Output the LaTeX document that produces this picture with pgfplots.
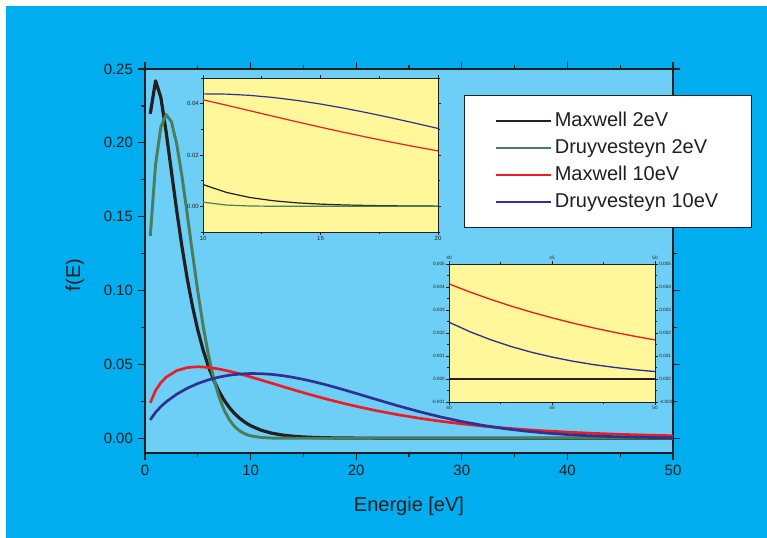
\documentclass[border=0pt]{standalone}
\usepackage{fontspec}
\setmainfont{Liberation Sans}
\usepackage{pgfplots}
\usepackage{pgfplotstable}
\pgfplotsset{compat=1.18}
\definecolor{bgblue}{HTML}{00AEEF}
\definecolor{panel}{HTML}{6DCFF6}
\definecolor{insety}{HTML}{FFF799}
\definecolor{cblack}{HTML}{231F20}
\definecolor{cgreen}{HTML}{4A7D5C}
\definecolor{cred}{HTML}{ED1C24}
\definecolor{cblue}{HTML}{2E3192}

% Maxwell 2eV
\pgfplotstableread{
E f
0.5 0.21969
1 0.24197
1.5 0.23080
2 0.20755
2.5 0.18072
3 0.15418
3.5 0.12969
4 0.10798
4.5 0.08920
5 0.07322
5.5 0.05981
6 0.04865
6.5 0.03944
7 0.03187
7.5 0.02569
8 0.02067
8.5 0.01659
9 0.01330
9.5 0.01064
10 0.008500
11 0.005407
12 0.003426
13 0.002163
14 0.001361
15 0.000855
16 0.000535
17 0.000335
18 0.000209
19 0.000130
20 0.000081
25 0.000007
30 0
40 0
50 0
}\tabMtwo

% Druyvesteyn 2eV
\pgfplotstableread{
E f
0.5 0.13697
1 0.18525
1.5 0.21062
2 0.21916
2.5 0.21432
3 0.19935
3.5 0.17748
4 0.15179
4.5 0.12503
5 0.09936
5.5 0.07625
6 0.05657
6.5 0.04059
7 0.02821
7.5 0.01896
8 0.01235
8.5 0.007793
9 0.004765
9.5 0.002824
10 0.001622
11 0.000488
12 0.000130
13 0.000030
14 0.000006
15 0
20 0
30 0
40 0
50 0
}\tabDtwo

% Maxwell 10eV
\pgfplotstableread{
E f
0.5 0.024001
1 0.032286
1.5 0.037614
2 0.041315
3 0.045785
4 0.047837
5 0.048393
6 0.047967
7 0.046882
8 0.045348
9 0.043522
10 0.041510
11 0.039393
12 0.037229
13 0.035062
14 0.032924
15 0.030836
16 0.028817
17 0.026876
18 0.025024
19 0.023263
20 0.021596
22 0.018544
24 0.015858
26 0.013514
28 0.011482
30 0.009730
32 0.008228
34 0.006944
36 0.005850
38 0.004921
40 0.004133
41 0.003787
42 0.003468
43 0.003175
44 0.002906
45 0.002659
46 0.002433
47 0.002225
48 0.002034
49 0.001860
50 0.001700
}\tabMten

% Druyvesteyn 10eV
\pgfplotstableread{
E f
0.5 0.012424
1 0.017538
1.5 0.021416
2 0.024627
3 0.029805
4 0.033846
5 0.037040
6 0.039527
7 0.041393
8 0.042700
9 0.043494
10 0.043821
11 0.043720
12 0.043232
13 0.042398
14 0.041261
15 0.039861
16 0.038241
17 0.036441
18 0.034502
19 0.032460
20 0.030350
22 0.026065
24 0.021872
26 0.017944
28 0.014400
30 0.011312
32 0.008697
34 0.006548
36 0.004828
38 0.003488
40 0.002469
41 0.002062
42 0.001713
43 0.001416
44 0.001164
45 0.000953
46 0.000776
47 0.000628
48 0.000507
49 0.000406
50 0.000324
}\tabDten

\begin{document}
\begin{tikzpicture}
\fill[white] (0,0) rectangle (575.25pt,-403.5pt);
\fill[bgblue] (4.5pt,-4.5pt) rectangle (575.25pt,-403.5pt);

% ---------- main axis ----------
\begin{axis}[
  at={(108.75pt,-339.75pt)}, anchor=south west,
  scale only axis, width=396pt, height=288pt,
  xmin=0, xmax=50, ymin=-0.01, ymax=0.25,
  axis background/.style={fill=panel},
  axis line style={draw=cblack, line width=1.1pt},
  tick align=outside, xtick pos=both, ytick pos=both,
  xtick={0,10,20,30,40,50}, minor xtick={5,15,25,35,45},
  ytick={0,0.05,0.1,0.15,0.2,0.25},
  minor ytick={0.025,0.075,0.125,0.175,0.225},
  major tick length=5.6pt, minor tick length=3pt,
  tick style={draw=cblack, line width=0.9pt},
  ticklabel style={font=\fontsize{11.2}{13}\selectfont, text=cblack},
  /pgf/number format/assume math mode=true,
  xticklabel style={/pgf/number format/.cd, fixed, precision=0},
  yticklabel style={/pgf/number format/.cd, fixed, fixed zerofill, precision=2},
  scaled ticks=false,
  xlabel={Energie [eV]}, ylabel={f(E)},
  label style={font=\fontsize{15}{18}\selectfont, text=cblack},
  xlabel style={at={(0.5,-0.1536)}, anchor=base},
  ylabel style={at={(-0.1231,0.4635)}, anchor=base},
  legend style={at={(1.1496,0.9323)}, anchor=north east,
    draw=cblack, line width=0.6pt, fill=white,
    font=\fontsize{15}{18}\selectfont, text=cblack,
    inner xsep=23pt, inner ysep=9pt, row sep=0pt,
    nodes={text height=11.5pt, text depth=3.5pt, inner ysep=2.6pt, inner xsep=2pt}},
  legend cell align=left,
  legend image code/.code={\draw[#1, line width=1.6pt] (0pt,0pt) -- (41pt,0pt);},
]
\addplot[cblack, line width=2.4pt, line join=round] table[x=E,y=f] {\tabMtwo};
\addlegendentry{Maxwell 2eV}
\addplot[cgreen, line width=2.2pt, line join=round] table[x=E,y=f] {\tabDtwo};
\addlegendentry{Druyvesteyn 2eV}
\addplot[cred, line width=2pt, line join=round] table[x=E,y=f] {\tabMten};
\addlegendentry{Maxwell 10eV}
\addplot[cblue, line width=2pt, line join=round] table[x=E,y=f] {\tabDten};
\addlegendentry{Druyvesteyn 10eV}
\end{axis}

% ---------- inset 1 ----------
\begin{axis}[
  at={(152.25pt,-174pt)}, anchor=south west,
  scale only axis, width=176.25pt, height=115.5pt,
  xmin=10, xmax=20, ymin=-0.01, ymax=0.05,
  axis background/.style={fill=insety},
  axis line style={draw=cblack, line width=0.7pt},
  tick align=outside, xtick pos=both, ytick pos=both,
  xtick={10,15,20}, minor xtick={12.5,17.5},
  ytick={0,0.02,0.04}, minor ytick={-0.01,0.01,0.03,0.05},
  major tick length=2pt, minor tick length=1.3pt,
  tick style={draw=cblack, line width=0.5pt},
  ticklabel style={font=\fontsize{4.5}{5}\selectfont, text=cblack, inner sep=1pt},
  /pgf/number format/assume math mode=true,
  xticklabel style={/pgf/number format/.cd, fixed, precision=0},
  yticklabel style={/pgf/number format/.cd, fixed, fixed zerofill, precision=2},
  scaled ticks=false,
]
\addplot[cblack, line width=0.9pt] table[x=E,y=f] {\tabMtwo};
\addplot[cgreen, line width=0.9pt] table[x=E,y=f] {\tabDtwo};
\addplot[cred, line width=0.9pt] table[x=E,y=f] {\tabMten};
\addplot[cblue, line width=0.9pt] table[x=E,y=f] {\tabDten};
\end{axis}

% ---------- inset 2 ----------
\begin{axis}[
  at={(336.75pt,-301.5pt)}, anchor=south west,
  scale only axis, width=154.5pt, height=103.5pt,
  xmin=40, xmax=50, ymin=-0.001, ymax=0.005,
  axis background/.style={fill=insety},
  axis line style={draw=cblack, line width=0.7pt},
  tick align=outside, xtick pos=both, ytick pos=both,
  xtick={40,45,50}, minor xtick={42.5,47.5},
  ytick={-0.001,0,0.001,0.002,0.003,0.004,0.005},
  minor ytick={-0.0005,0.0005,0.0015,0.0025,0.0035,0.0045},
  major tick length=2pt, minor tick length=1.3pt,
  tick style={draw=cblack, line width=0.5pt},
  ticklabel style={font=\fontsize{3.5}{4}\selectfont, text=cblack, inner sep=1pt},
  /pgf/number format/assume math mode=true,
  xticklabel style={/pgf/number format/.cd, fixed, precision=0},
  yticklabel style={/pgf/number format/.cd, fixed, fixed zerofill, precision=3},
  scaled ticks=false,
]
\addplot[cgreen, line width=1pt] table[x=E,y=f] {\tabDtwo};
\addplot[cblack, line width=1.4pt] table[x=E,y=f] {\tabMtwo};
\addplot[cred, line width=1pt] table[x=E,y=f] {\tabMten};
\addplot[cblue, line width=1pt] table[x=E,y=f] {\tabDten};
\end{axis}
\begin{axis}[
  at={(336.75pt,-301.5pt)}, anchor=south west,
  scale only axis, width=154.5pt, height=103.5pt,
  xmin=40, xmax=50, ymin=-0.001, ymax=0.005,
  axis line style={draw=cblack, line width=0.7pt},
  tick align=outside, xtick pos=both, ytick pos=both,
  xticklabel pos=right, yticklabel pos=right,
  xtick={40,45,50}, minor xtick={42.5,47.5},
  ytick={-0.001,0,0.001,0.002,0.003,0.004,0.005},
  minor ytick={-0.0005,0.0005,0.0015,0.0025,0.0035,0.0045},
  major tick length=2pt, minor tick length=1.3pt,
  tick style={draw=cblack, line width=0.5pt},
  ticklabel style={font=\fontsize{3.5}{4}\selectfont, text=cblack, inner sep=1pt},
  /pgf/number format/assume math mode=true,
  xticklabel style={/pgf/number format/.cd, fixed, precision=0},
  yticklabel style={/pgf/number format/.cd, fixed, fixed zerofill, precision=3},
  scaled ticks=false,
]
\addplot[draw=none] coordinates {(45,0)};
\end{axis}

\pgfresetboundingbox
\path[use as bounding box] (0,0) rectangle (575.25pt,-403.5pt);
\end{tikzpicture}
\end{document}
